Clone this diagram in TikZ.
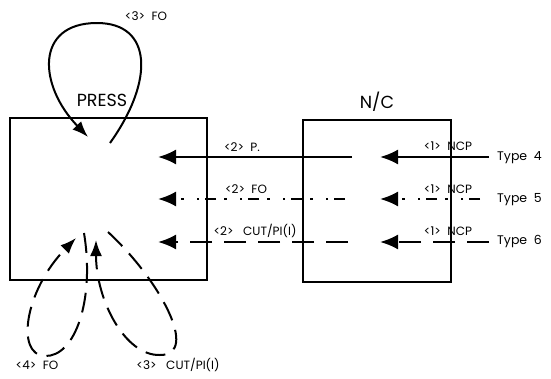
\documentclass[tikz,border=0pt]{standalone}
\usepackage{fontspec}
\setmainfont{Poppins}
\usetikzlibrary{arrows.meta}
\tikzset{
  boxnode/.style={draw, line width=2.4pt, inner sep=0pt},
  conn/.style={line width=2.2pt, -{Latex[length=18pt,width=15pt]}},
  loopconn/.style={line width=2pt, -{Latex[length=16pt,width=12pt]}},
  dotdash/.style={dash pattern=on 11pt off 6pt on 2.5pt off 13pt on 2.5pt off 8pt},
  longdash/.style={dash pattern=on 22pt off 12pt},
  loopdash/.style={dash pattern=on 20pt off 10pt},
  small/.style={font=\fontsize{12}{13}\selectfont, inner sep=0pt},
  typelbl/.style={font=\fontsize{12.5}{14}\selectfont, inner sep=0pt, anchor=base west},
  big/.style={font=\fontsize{17.5}{20}\selectfont, inner sep=0pt}
}
\begin{document}
\begin{tikzpicture}[x=1pt,y=-1pt]
\useasboundingbox (0,0) rectangle (551,378);
% boxes
\node[boxnode, minimum width=197pt, minimum height=162pt] (press) at (108.5,199) {};
\node[boxnode, minimum width=148pt, minimum height=162pt] (nc) at (377,201) {};
\node[big] (presslbl) at (102,100) {PRESS};
\node[big] (nclbl) at (377,102) {N/C};
% coordinates for row arrows
\coordinate (r1s) at (489,157); \coordinate (r1m) at (380,157);
\coordinate (r1b) at (352,157); \coordinate (r1e) at (158,157);
\coordinate (r2s) at (480,199); \coordinate (r2m) at (380,199);
\coordinate (r2b) at (345,199); \coordinate (r2e) at (158,199);
\coordinate (r3s) at (489,242); \coordinate (r3m) at (380,242);
\coordinate (r3b) at (348,242); \coordinate (r3e) at (158,242);
\draw[conn] (r1s) -- (r1m);
\draw[conn] (r1b) -- (r1e);
\draw[conn, dotdash] (r2s) -- (r2m);
\draw[conn, dotdash] (r2b) -- (r2e);
\draw[conn, longdash] (r3s) -- (r3m);
\draw[conn, longdash] (r3b) -- (r3e);
% labels
\node[small] (l2p) at (242,147) {<2>\ \ P.};
\node[small] (l2fo) at (246,189) {<2>\ \ FO};
\node[small] (l2cut) at (255,231) {<2>\ \ \ CUT/PI(I)};
\node[small] (l1a) at (448,146) {<1>\ \ NCP};
\node[small] (l1b) at (448,189) {<1>\ \ NCP};
\node[small] (l1c) at (448,231) {<1>\ \ NCP};
\node[typelbl] (t4) at (497,160) {Type\ \ 4};
\node[typelbl] (t5) at (497,202) {Type\ \ 5};
\node[typelbl] (t6) at (497,244) {Type\ \ 6};
% top loop
\coordinate (tls) at (110,143); \coordinate (tlt) at (97,23); \coordinate (tle) at (88,137);
\draw[loopconn] (tls) .. controls (155,80) and (152,23) .. (tlt)
   .. controls (35,23) and (38,85) .. (tle);
\node[small] (l3fo) at (146,16) {<3>\ \ FO};
% bottom loops
\coordinate (b4s) at (84,233); \coordinate (b4m) at (45,356); \coordinate (b4e) at (76,238);
\draw[loopconn, loopdash] (b4s) .. controls (95,300) and (75,357) .. (b4m)
   .. controls (15,355) and (25,290) .. (b4e);
\coordinate (b3s) at (108,232); \coordinate (b3m) at (160,355); \coordinate (b3e) at (96,240);
\draw[loopconn, loopdash] (b3s) .. controls (160,280) and (200,355) .. (b3m)
   .. controls (125,356) and (96,300) .. (b3e);
\node[small] (l4fo) at (37,365) {<4>\ \ FO};
\node[small] (l3cut) at (178,365) {<3>\ \ \ CUT/PI(I)};
\end{tikzpicture}
\end{document}
